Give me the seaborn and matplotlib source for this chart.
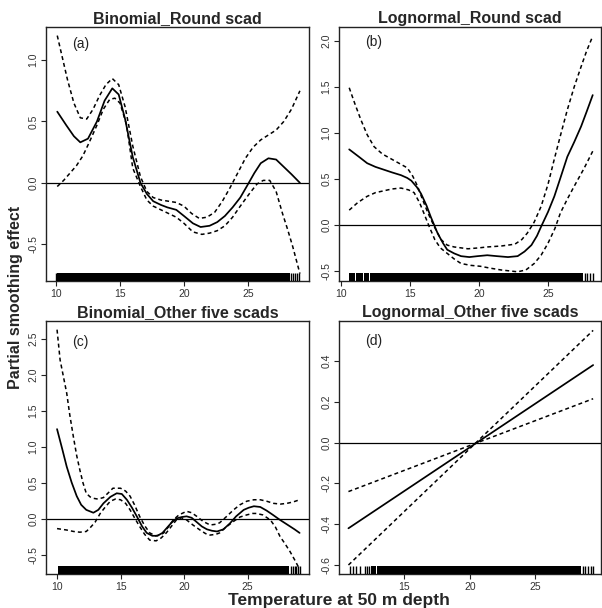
import numpy as np
import pandas as pd
import matplotlib
matplotlib.use("Agg")
import matplotlib.pyplot as plt
import seaborn as sns

# ---------------- data ----------------
titles = ["Binomial_Round scad", "Lognormal_Round scad",
          "Binomial_Other five scads", "Lognormal_Other five scads"]
panel_tags = ["(a)", "(b)", "(c)", "(d)"]

# (a) Binomial_Round scad
a_fit_x = [10.1, 10.8, 11.4, 11.9, 12.5, 13.2, 13.8, 14.4, 14.9, 15.4, 16.0, 16.6, 17.1, 17.6, 18.2,
           18.7, 19.4, 20.0, 20.7, 21.3, 22.0, 22.6, 23.2, 23.8, 24.4, 24.9, 25.5, 26.0, 26.6, 27.2,
           27.8, 28.4, 29.06]
a_fit_y = [0.58, 0.47, 0.38, 0.33, 0.36, 0.50, 0.67, 0.77, 0.72, 0.52, 0.21, 0.00, -0.09, -0.15, -0.18,
           -0.20, -0.22, -0.27, -0.33, -0.36, -0.35, -0.32, -0.27, -0.20, -0.12, -0.03, 0.08, 0.16, 0.20,
           0.19, 0.13, 0.07, 0.00]
a_up_x = [10.1, 10.5, 10.9, 11.4, 11.9, 12.4, 12.9, 13.4, 13.9, 14.4, 14.9, 15.4, 16.0, 16.6, 17.1,
          17.6, 18.2, 18.8, 19.4, 20.0, 20.6, 21.2, 21.8, 22.4, 23.0, 23.6, 24.2, 24.8, 25.4, 26.0,
          26.6, 27.2, 27.8, 28.4, 29.06]
a_up_y = [1.20, 1.02, 0.84, 0.65, 0.53, 0.52, 0.60, 0.71, 0.80, 0.85, 0.80, 0.62, 0.30, 0.05, -0.07,
          -0.12, -0.14, -0.15, -0.16, -0.19, -0.25, -0.29, -0.28, -0.24, -0.15, -0.04, 0.08, 0.20, 0.29,
          0.35, 0.39, 0.43, 0.50, 0.60, 0.75]
a_lo_x = [10.1, 10.6, 11.1, 11.6, 12.1, 12.6, 13.2, 13.7, 14.2, 14.6, 15.0, 15.5, 16.0, 16.6, 17.1,
          17.6, 18.2, 18.8, 19.4, 20.0, 20.7, 21.4, 22.0, 22.6, 23.2, 23.8, 24.4, 25.1, 25.7, 26.2,
          26.7, 27.2, 27.7, 28.1, 28.5, 29.06]
a_lo_y = [-0.03, 0.02, 0.08, 0.14, 0.22, 0.33, 0.47, 0.60, 0.68, 0.69, 0.65, 0.48, 0.12, -0.03, -0.14,
          -0.19, -0.22, -0.25, -0.28, -0.33, -0.40, -0.42, -0.41, -0.39, -0.35, -0.28, -0.19, -0.09,
          -0.01, 0.02, 0.02, -0.07, -0.25, -0.38, -0.52, -0.74]

# (b) Lognormal_Round scad
b_fit_x = [10.6, 11.3, 11.9, 12.5, 13.1, 13.7, 14.35, 14.8, 15.1, 15.5, 15.8, 16.2, 16.5, 17.0, 17.4,
           17.7, 18.2, 18.7, 19.3, 19.9, 20.6, 21.3, 22.1, 22.8, 23.3, 23.8, 24.2, 24.5, 25.0, 25.46,
           25.9, 26.4, 26.9, 27.4, 27.8, 28.24]
b_fit_y = [0.82, 0.74, 0.67, 0.63, 0.60, 0.57, 0.54, 0.51, 0.48, 0.41, 0.34, 0.21, 0.09, -0.09, -0.20,
           -0.27, -0.31, -0.34, -0.35, -0.34, -0.33, -0.34, -0.35, -0.34, -0.29, -0.22, -0.12, -0.02,
           0.14, 0.31, 0.51, 0.74, 0.90, 1.07, 1.23, 1.41]
b_up_x = [10.6, 11.0, 11.45, 11.9, 12.4, 13.0, 13.6, 14.2, 14.8, 15.2, 15.55, 15.9, 16.3, 16.8, 17.25,
          17.7, 18.2, 19.2, 20.0, 20.6, 21.6, 22.6, 23.1, 23.5, 24.0, 24.5, 25.0, 25.45, 25.9, 26.4,
          26.9, 27.4, 27.8, 28.24]
b_up_y = [1.49, 1.32, 1.14, 0.98, 0.85, 0.77, 0.72, 0.67, 0.62, 0.53, 0.42, 0.28, 0.13, -0.03, -0.16,
          -0.22, -0.24, -0.26, -0.25, -0.24, -0.23, -0.21, -0.16, -0.09, 0.03, 0.20, 0.44, 0.71, 0.97,
          1.25, 1.50, 1.72, 1.89, 2.05]
b_lo_x = [10.6, 11.2, 11.9, 12.5, 13.1, 13.7, 14.35, 14.9, 15.3, 15.7, 16.0, 16.4, 16.8, 17.2, 17.7,
          18.2, 18.7, 19.4, 20.1, 20.8, 21.6, 22.2, 22.8, 23.4, 24.0, 24.5, 25.0, 25.5, 25.9, 26.4,
          26.9, 27.6, 28.24]
b_lo_y = [0.16, 0.24, 0.31, 0.35, 0.37, 0.39, 0.40, 0.38, 0.35, 0.24, 0.13, -0.02, -0.16, -0.25, -0.31,
          -0.37, -0.42, -0.44, -0.45, -0.47, -0.49, -0.50, -0.51, -0.49, -0.42, -0.33, -0.20, -0.04,
          0.13, 0.28, 0.42, 0.61, 0.80]

# (c) Binomial_Other five scads
c_fit_x = [10.0, 10.4, 10.76, 11.15, 11.55, 11.9, 12.3, 12.86, 13.25, 13.65, 14.2, 14.7, 15.1, 15.5,
           15.9, 16.28, 16.7, 17.06, 17.5, 17.9, 18.3, 18.6, 19.0, 19.4, 19.8, 20.2, 20.6, 21.0, 21.4,
           21.8, 22.2, 22.6, 23.1, 23.6, 24.1, 24.7, 25.1, 25.5, 26.0, 26.5, 27.0, 27.56, 28.0, 28.35,
           28.7, 29.1]
c_fit_y = [1.25, 0.98, 0.73, 0.51, 0.32, 0.20, 0.13, 0.09, 0.13, 0.22, 0.31, 0.36, 0.35, 0.27, 0.16,
           0.04, -0.10, -0.19, -0.23, -0.23, -0.19, -0.13, -0.05, 0.01, 0.03, 0.04, 0.02, -0.04, -0.10,
           -0.14, -0.16, -0.17, -0.14, -0.06, 0.04, 0.13, 0.16, 0.18, 0.17, 0.12, 0.06, -0.01, -0.06,
           -0.10, -0.14, -0.19]
c_up_x = [10.0, 10.24, 10.5, 10.76, 11.0, 11.28, 11.55, 11.8, 12.05, 12.3, 12.6, 12.86, 13.2, 13.65,
          14.0, 14.4, 15.0, 15.4, 15.75, 16.1, 16.5, 16.9, 17.3, 17.75, 18.1, 18.4, 18.8, 19.15, 19.6,
          20.2, 20.6, 21.0, 21.5, 22.05, 22.5, 22.8, 23.3, 23.9, 24.4, 24.94, 25.5, 26.0, 26.5, 27.05,
          27.6, 28.1, 28.6, 29.1]
c_up_y = [2.63, 2.21, 1.98, 1.75, 1.45, 1.15, 0.88, 0.68, 0.50, 0.36, 0.31, 0.29, 0.28, 0.30, 0.36,
          0.43, 0.43, 0.39, 0.32, 0.20, 0.04, -0.09, -0.19, -0.23, -0.22, -0.19, -0.10, -0.01, 0.06,
          0.11, 0.09, 0.04, -0.03, -0.08, -0.07, -0.05, 0.03, 0.13, 0.20, 0.25, 0.27, 0.27, 0.25, 0.22,
          0.21, 0.22, 0.24, 0.27]
c_lo_x = [10.0, 10.76, 11.3, 11.8, 12.3, 12.6, 13.0, 13.4, 13.8, 14.2, 14.6, 15.0, 15.4, 15.75, 16.1,
          16.5, 16.9, 17.3, 17.8, 18.2, 18.6, 19.0, 19.4, 19.8, 20.2, 20.7, 21.26, 21.7, 22.05, 22.5,
          22.8, 23.3, 23.9, 24.4, 24.94, 25.4, 25.7, 26.2, 26.8, 27.2, 27.56, 27.95, 28.35, 28.7, 29.0]
c_lo_y = [-0.13, -0.15, -0.17, -0.18, -0.17, -0.12, -0.04, 0.08, 0.17, 0.25, 0.28, 0.27, 0.22, 0.13,
          0.02, -0.10, -0.21, -0.29, -0.30, -0.26, -0.19, -0.10, -0.01, 0.02, -0.01, -0.08, -0.15,
          -0.20, -0.22, -0.21, -0.19, -0.11, -0.03, 0.03, 0.06, 0.08, 0.08, 0.06, -0.01, -0.11, -0.24,
          -0.34, -0.45, -0.56, -0.66]

# (d) Lognormal_Other five scads (linear term)
d_fit_x = [10.74, 29.4]
d_fit_y = [-0.42, 0.38]
d_up_x = [10.74, 29.4]
d_up_y = [-0.60, 0.55]
d_lo_x = [10.74, 29.4]
d_lo_y = [-0.24, 0.215]

# rug: dense stretches of observations and individually visible ticks
a_rug_dense = [(10.1, 28.3)]
a_rug_ticks = [10.0, 28.4, 28.55, 28.7, 28.85, 29.0]
b_rug_dense = [(10.55, 11.0), (11.08, 11.6), (11.7, 12.0), (12.08, 27.5)]
b_rug_ticks = [27.65, 27.85, 28.05, 28.25]
c_rug_dense = [(10.05, 28.3)]
c_rug_ticks = [28.4, 28.55, 28.7, 28.85, 29.0, 29.1]
d_rug_dense = [(12.45, 12.85), (12.95, 28.45)]
d_rug_ticks = [10.84, 11.09, 11.35, 11.6, 12.0, 12.15, 12.3, 28.6, 28.8, 29.0, 29.2, 29.4]

xlims = [(9.22, 29.77), (9.86, 28.84), (9.13, 29.84), (10.02, 30.0)]
ylims = [(-0.80, 1.27), (-0.61, 2.15), (-0.76, 2.75), (-0.644, 0.596)]
xticks = [[10, 15, 20, 25], [10, 15, 20, 25], [10, 15, 20, 25], [15, 20, 25]]
yticks = [[-0.5, 0.0, 0.5, 1.0], [-0.5, 0.0, 0.5, 1.0, 1.5, 2.0],
          [-0.5, 0.0, 0.5, 1.0, 1.5, 2.0, 2.5], [-0.6, -0.4, -0.2, 0.0, 0.2, 0.4]]

panels = [
    (a_fit_x, a_fit_y, a_up_x, a_up_y, a_lo_x, a_lo_y, a_rug_dense, a_rug_ticks),
    (b_fit_x, b_fit_y, b_up_x, b_up_y, b_lo_x, b_lo_y, b_rug_dense, b_rug_ticks),
    (c_fit_x, c_fit_y, c_up_x, c_up_y, c_lo_x, c_lo_y, c_rug_dense, c_rug_ticks),
    (d_fit_x, d_fit_y, d_up_x, d_up_y, d_lo_x, d_lo_y, d_rug_dense, d_rug_ticks),
]

# ---------------- style ----------------
sns.set_theme(style="ticks")
plt.rcParams["font.family"] = ["Liberation Sans", "DejaVu Sans"]
plt.rcParams["axes.linewidth"] = 1.0
plt.rcParams["axes.edgecolor"] = "#222222"

fig = plt.figure(figsize=(6.02, 6.08), dpi=100)
W, H = 602.0, 608.0
boxes = [(46, 309, 27, 281), (339, 601, 27, 281), (46, 309, 321, 574), (339, 601, 321, 574)]
tag_y = [0.935, 0.94, 0.917, 0.92]

for i, (box, data) in enumerate(zip(boxes, panels)):
    l, r, t, b = box
    ax = fig.add_axes([l / W, 1 - b / H, (r - l) / W, (b - t) / H])
    fx, fy, ux, uy, lx, ly, rug_dense, rug_ticks = data

    ax.axhline(0, color="black", lw=0.9, zorder=2)
    sns.lineplot(x=fx, y=fy, ax=ax, color="black", lw=1.25, estimator=None, sort=False)
    for xx, yy in [(ux, uy), (lx, ly)]:
        sns.lineplot(x=xx, y=yy, ax=ax, color="black", lw=1.1, estimator=None, sort=False)
        ax.lines[-1].set_dashes((2.6, 2.0))

    for s, e in rug_dense:
        ax.axvspan(s, e, ymin=0, ymax=0.03, color="black", lw=0, zorder=3)
    sns.rugplot(x=rug_ticks, ax=ax, height=0.03, color="black", lw=0.7, zorder=3)

    ax.set_xlim(*xlims[i])
    ax.set_ylim(*ylims[i])
    ax.set_xticks(xticks[i])
    ax.set_xticklabels([str(v) for v in xticks[i]])
    ax.set_yticks(yticks[i])
    ax.set_yticklabels([f"{v:.1f}" for v in yticks[i]], rotation=90, va="center")
    ax.tick_params(axis="both", direction="out", length=3.5, width=0.8, color="#222222",
                   labelsize=7.5, labelcolor="#333333", pad=2)
    ax.set_xlabel("")
    ax.set_ylabel("")
    for sp in ax.spines.values():
        sp.set_visible(True)
        sp.set_color("#222222")
    ax.set_title(titles[i], fontsize=11.5, fontweight="bold", pad=3)
    ax.text(0.10, tag_y[i], panel_tags[i], transform=ax.transAxes, fontsize=10,
            ha="left", va="center", color="#222222")

fig.text(16 / W, 1 - 297 / H, "Partial smoothing effect", rotation=90, ha="center", va="center",
         fontsize=11.5, fontweight="bold")
fig.text(228 / W, 1 - 600.5 / H, "Temperature at 50 m depth", ha="left", va="center",
         fontsize=12.5, fontweight="bold")

fig.savefig("out.png", dpi=100)
